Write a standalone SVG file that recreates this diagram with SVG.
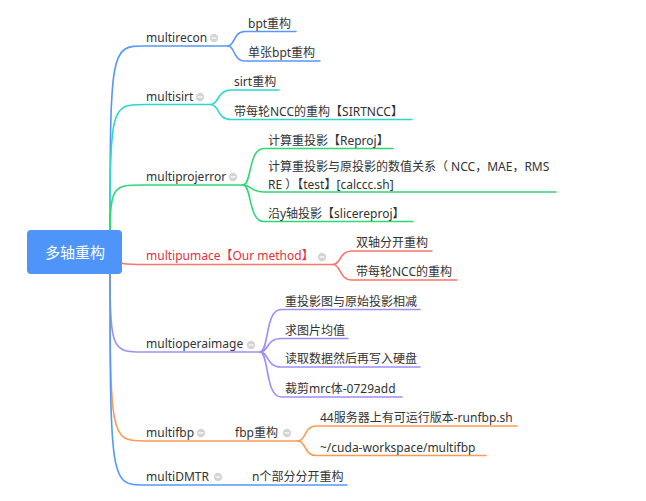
<svg xmlns="http://www.w3.org/2000/svg" width="646" height="501" viewBox="0 0 646 501">
  <style>
    .t { font-family: "Noto Sans", "Noto Sans CJK SC", sans-serif; font-size: 12px; fill: #333333; }
    .red { fill: #e3303e; }
    .root-t { font-family: "Noto Sans CJK SC", "Noto Sans", sans-serif; font-size: 15px; fill: #ffffff; }
    .c { fill: none; stroke-width: 1.6; stroke-linecap: round; }
    .blue { stroke: #5598f7; }
    .cyan { stroke: #2ed6cf; }
    .green { stroke: #2fd874; }
    .salmon { stroke: #f8766b; }
    .purple { stroke: #a08df5; }
    .orange { stroke: #fd9b55; }
    .ico circle { fill: #d4d4d4; }
    .ico line { stroke: #ffffff; stroke-width: 1.2; }
  </style>
  <defs>
    <g id="collapse" class="ico">
      <circle cx="0" cy="0" r="4.2"/>
      <line x1="-2.4" y1="0" x2="2.4" y2="0"/>
    </g>
  </defs>
  <rect width="646" height="501" fill="#ffffff"/>

  <!-- connectors -->
  <g id="connectors">
    <!-- root to main branches -->
    <path class="c blue" d="M110,252 C110,46 110,46 145,46 H228"/>
    <path class="c cyan" d="M110,252 C110,104.5 110,104.5 145,104.5 H211"/>
    <path class="c green" d="M110,252 C110,185 110,185 145,185 H243"/>
    <path class="c salmon" d="M112,258 C120,264.5 125,264.5 145,264.5 H333"/>
    <path class="c purple" d="M110,252 C110,352 110,352 145,352 H260"/>
    <path class="c orange" d="M110,252 C110,441 110,441 145,441 H298"/>
    <path class="c blue" d="M110,252 C110,485 110,485 145,485 H347"/>

    <!-- multirecon children -->
    <path class="c blue" d="M228,46 C235,46 233,31.5 245,31.5 H296"/>
    <path class="c blue" d="M228,46 C235,46 233,61 245,61 H320"/>
    <!-- multisirt children -->
    <path class="c cyan" d="M211,104.5 C219,104.5 217,90 231,90 H279"/>
    <path class="c cyan" d="M211,104.5 C219,104.5 217,119.5 231,119.5 H412"/>
    <!-- multiprojerror children -->
    <path class="c green" d="M243,185 C252,185 248,148.5 264,148.5 H393"/>
    <path class="c green" d="M243,185 C252,185 250,192 264,192 H556"/>
    <path class="c green" d="M243,185 C252,185 248,221.5 264,221.5 H413"/>
    <!-- multipumace children -->
    <path class="c salmon" d="M333,264.5 C341,264.5 339,251 352,251 H432"/>
    <path class="c salmon" d="M333,264.5 C341,264.5 339,280 352,280 H457"/>
    <!-- multioperaimage children -->
    <path class="c purple" d="M260,352 C269,352 265,309.5 281,309.5 H420"/>
    <path class="c purple" d="M260,352 C269,352 266,338.5 281,338.5 H348"/>
    <path class="c purple" d="M260,352 C269,352 266,367 281,367 H420"/>
    <path class="c purple" d="M260,352 C269,352 265,397 281,397 H402"/>
    <!-- fbp children -->
    <path class="c orange" d="M298,441 C306,441 304,426 316,426 H517"/>
    <path class="c orange" d="M298,441 C306,441 304,455.5 316,455.5 H486"/>
  </g>

  <!-- root -->
  <g id="root">
    <rect x="27" y="230" width="95" height="44" rx="4" fill="#4f94f9"/>
    <text class="root-t" x="75" y="258" text-anchor="middle">多轴重构</text>
  </g>

  <g id="multirecon">
    <text class="t" x="146" y="42">multirecon</text>
    <use href="#collapse" x="214" y="38"/>
  </g>
  <g id="bpt"><text class="t" x="248" y="28">bpt重构</text></g>
  <g id="single-bpt"><text class="t" x="248" y="57">单张bpt重构</text></g>

  <g id="multisirt">
    <text class="t" x="146" y="101">multisirt</text>
    <use href="#collapse" x="200" y="97"/>
  </g>
  <g id="sirt"><text class="t" x="234" y="86">sirt重构</text></g>
  <g id="sirtncc"><text class="t" x="234" y="116">带每轮NCC的重构【SIRTNCC】</text></g>

  <g id="multiprojerror">
    <text class="t" x="146" y="181">multiprojerror</text>
    <use href="#collapse" x="233" y="177"/>
  </g>
  <g id="reproj"><text class="t" x="268" y="145">计算重投影【Reproj】</text></g>
  <g id="calccc">
    <text class="t" x="268" y="171">计算重投影与原投影的数值关系（ NCC，MAE，RMS</text>
    <text class="t" x="268" y="189">RE ）【test】[calccc.sh]</text>
  </g>
  <g id="slicereproj"><text class="t" x="268" y="218">沿y轴投影【slicereproj】</text></g>

  <g id="multipumace">
    <text class="t red" x="146" y="260">multipumace【Our method】</text>
    <use href="#collapse" x="322" y="257"/>
  </g>
  <g id="dual-axis"><text class="t" x="356" y="247">双轴分开重构</text></g>
  <g id="pumace-ncc"><text class="t" x="356" y="276">带每轮NCC的重构</text></g>

  <g id="multioperaimage">
    <text class="t" x="146" y="348">multioperaimage</text>
    <use href="#collapse" x="251" y="345"/>
  </g>
  <g id="subtract"><text class="t" x="285" y="306">重投影图与原始投影相减</text></g>
  <g id="mean"><text class="t" x="285" y="335">求图片均值</text></g>
  <g id="readwrite"><text class="t" x="285" y="363">读取数据然后再写入硬盘</text></g>
  <g id="crop"><text class="t" x="285" y="393">裁剪mrc体-0729add</text></g>

  <g id="multifbp">
    <text class="t" x="146" y="437">multifbp</text>
    <use href="#collapse" x="201" y="433"/>
  </g>
  <g id="fbp">
    <text class="t" x="235" y="437">fbp重构</text>
    <use href="#collapse" x="287" y="433"/>
  </g>
  <g id="runfbp"><text class="t" x="320" y="422">44服务器上有可运行版本-runfbp.sh</text></g>
  <g id="workspace"><text class="t" x="320" y="452">~/cuda-workspace/multifbp</text></g>

  <g id="multiDMTR">
    <text class="t" x="146" y="481">multiDMTR</text>
    <use href="#collapse" x="218" y="477"/>
  </g>
  <g id="n-parts"><text class="t" x="252" y="481">n个部分分开重构</text></g>
</svg>
